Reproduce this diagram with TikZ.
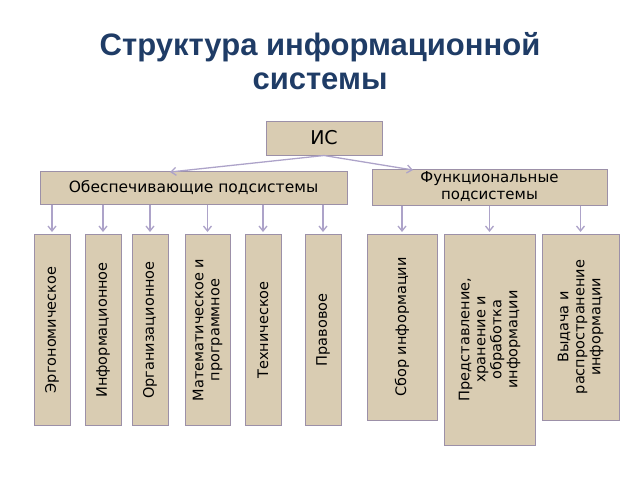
\documentclass[tikz,border=0pt]{standalone}
\usepackage{fontspec}
\setmainfont{DejaVu Sans}
\newfontfamily\titlefont{Liberation Sans}
\usepackage{xcolor}
\usetikzlibrary{arrows.meta, positioning}
\definecolor{boxfill}{HTML}{D9CCB2}
\definecolor{boxline}{HTML}{9C90A8}
\definecolor{arrowcol}{HTML}{ADA3C9}
\definecolor{titleblue}{HTML}{1F3C66}
\begin{document}
\begin{tikzpicture}[x=1pt, y=-1pt,
    box/.style={draw=boxline, fill=boxfill, line width=1pt, inner sep=0pt, align=center},
    vtext/.style={rotate=90, align=center, font=\fontsize{14.5}{16}\selectfont},
    link/.style={-{Straight Barb[length=5pt, width=8pt]}, draw=arrowcol, line width=1.3pt}
  ]
  \useasboundingbox (0,0) rectangle (640,480);

  % Title
  \node[font=\titlefont\bfseries\fontsize{31}{34}\selectfont, text=titleblue, align=center]
    (title) at (320,61) {Структура информационной\\системы};

  % Upper levels (manual layout to match figure)
  \node[box, minimum width=116pt, minimum height=34pt, font=\fontsize{19}{21}\selectfont] (IS) at (324,138) {ИС};
  \node[box, minimum width=307pt, minimum height=33pt, font=\fontsize{15.5}{17}\selectfont] (Obesp) at (193.5,187.5) {Обеспечивающие подсистемы};
  \node[box, minimum width=235pt, minimum height=36pt, font=\fontsize{15}{17}\selectfont] (Funk) at (489.5,187) {Функциональные\\подсистемы};

  \coordinate (ObTop) at (170,172);
  \coordinate (FuTop) at (413,170);
  \draw[link] (IS.south) -- (ObTop);
  \draw[link] (IS.south) -- (FuTop);

  % Supporting subsystems
  \foreach \name/\xa/\xb/\txt in {
      erg/34/70/{Эргономическое},
      inf/85/121/{Информационное},
      org/132/168/{Организационное},
      mat/185/230/{Математическое и\\программное},
      teh/245/281/{Техническое},
      prav/305/341/{Правовое}} {
    \draw[box] (\xa,234) rectangle (\xb,425);
    \node[vtext] (\name) at ({(\xa+\xb)/2},330) {\txt};
    \draw[link] (Obesp.south -| \name) -- ({(\xa+\xb)/2},232);
  }

  % Functional subsystems
  \foreach \name/\xa/\xb/\yb/\txt in {
      sbor/367/437/420/{Сбор информации},
      pred/444/535/445/{Представление,\\хранение и\\обработка\\информации},
      vyd/542/619/420/{Выдача и\\распространение\\информации}} {
    \draw[box] (\xa,234) rectangle (\xb,\yb);
    \node[vtext] (\name) at ({(\xa+\xb)/2},{(234+\yb)/2}) {\txt};
    \draw[link] (Funk.south -| \name) -- ({(\xa+\xb)/2},232);
  }
\end{tikzpicture}
\end{document}
